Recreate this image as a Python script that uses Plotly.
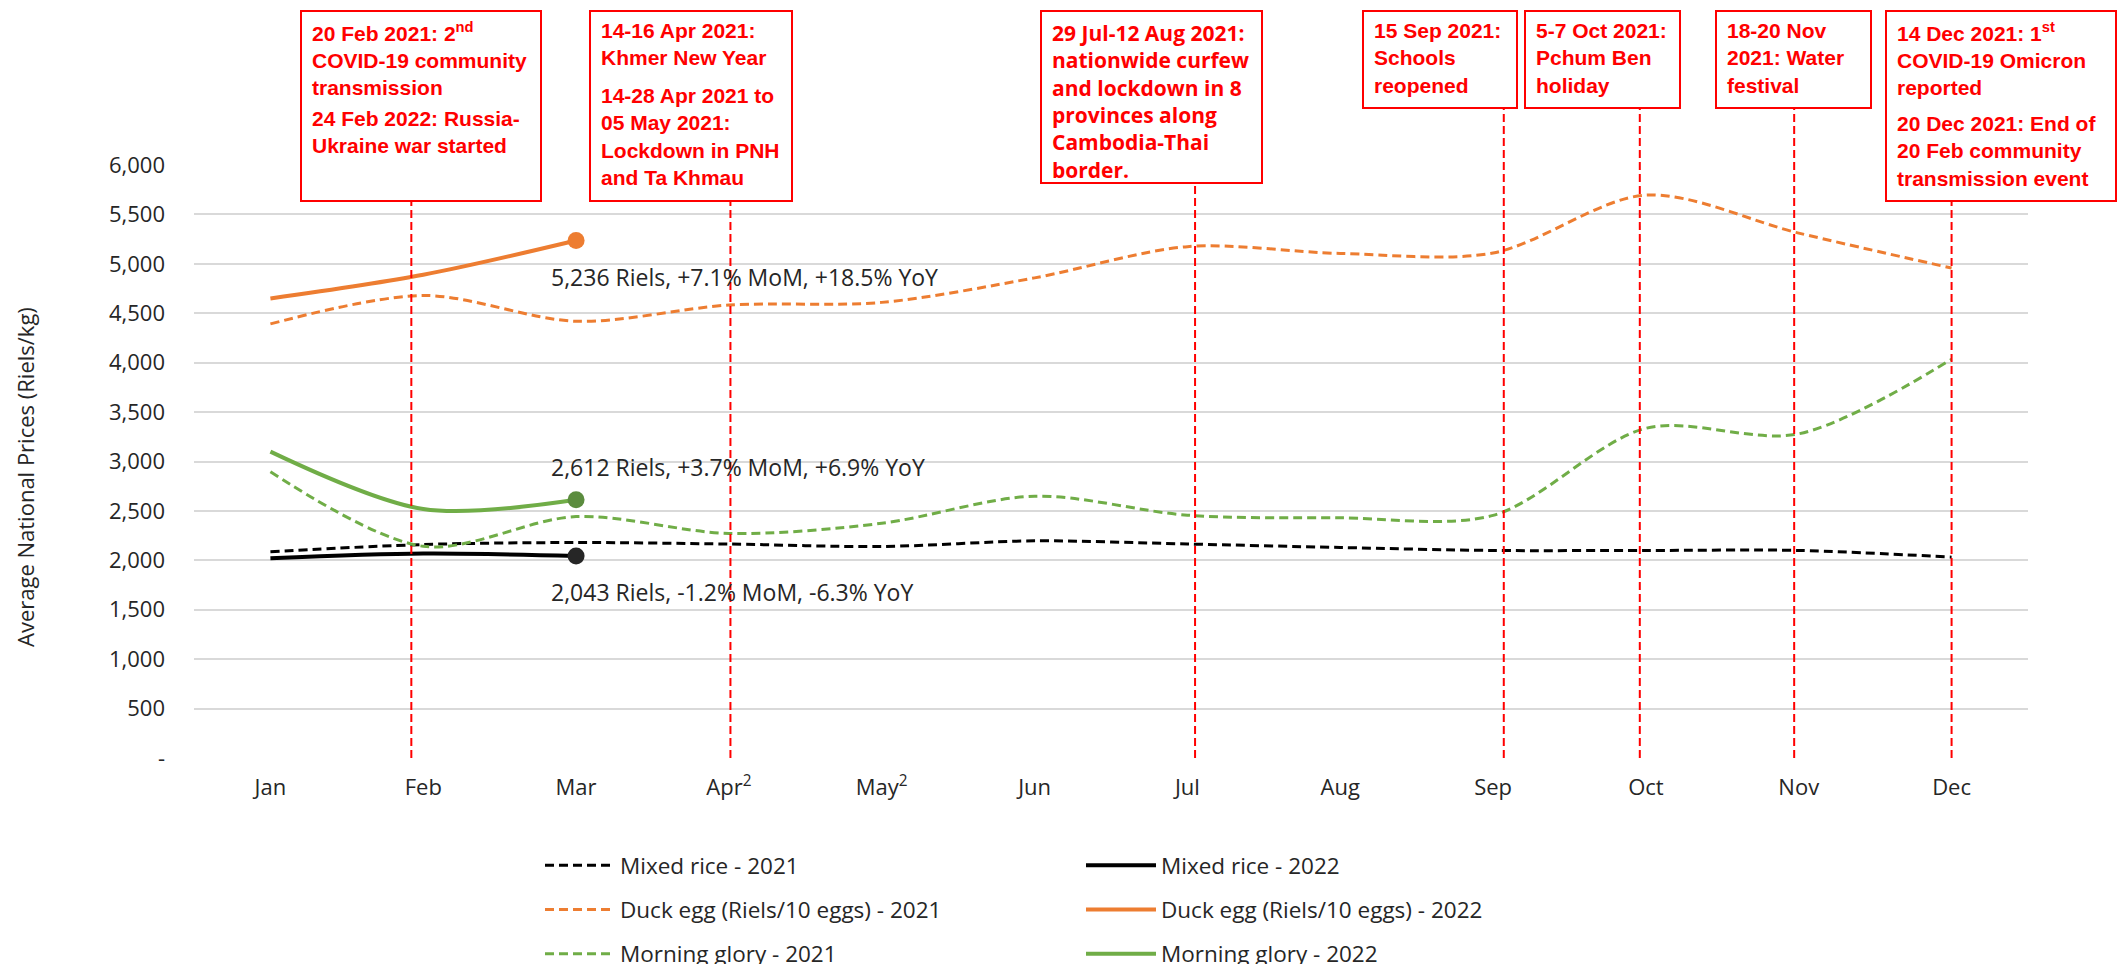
import plotly.graph_objects as go

# ---------------- data ----------------
months = ["Jan", "Feb", "Mar", "Apr", "May", "Jun", "Jul", "Aug", "Sep", "Oct", "Nov", "Dec"]
month_labels = ["Jan", "Feb", "Mar", "Apr<sup>2</sup>", "May<sup>2</sup>", "Jun", "Jul", "Aug",
                "Sep", "Oct", "Nov", "Dec"]

rice_2021 = [2087, 2160, 2180, 2165, 2140, 2197, 2165, 2130, 2100, 2100, 2100, 2032]
rice_2022 = [2020, 2068, 2043]
duck_2021 = [4392, 4680, 4419, 4583, 4610, 4858, 5174, 5105, 5110, 5695, 5311, 4957]
duck_2022 = [4650, 4889, 5236]
glory_2021 = [2896, 2142, 2443, 2272, 2375, 2649, 2457, 2430, 2455, 3336, 3280, 4035]
glory_2022 = [3100, 2519, 2612]

rice_change = (-1.2, -6.3)   # MoM, YoY
duck_change = (7.1, 18.5)
glory_change = (3.7, 6.9)

y_ticks = [0, 500, 1000, 1500, 2000, 2500, 3000, 3500, 4000, 4500, 5000, 5500, 6000]
y_ticktext = ["-"] + [f"{v:,}" for v in y_ticks[1:]]

# event markers (position in month units) and their texts
event_x = [0.922, 3.01, 6.05, 8.07, 8.96, 9.97, 11.0]
event_texts = [
    ["20 Feb 2021: 2<sup>nd</sup><br>COVID-19 community<br>transmission",
     "24 Feb 2022: Russia-<br>Ukraine war started"],
    ["14-16 Apr 2021:<br>Khmer New Year",
     "14-28 Apr 2021 to<br>05 May 2021:<br>Lockdown in PNH<br>and Ta Khmau"],
    ["29 Jul-12 Aug 2021:<br>nationwide curfew<br>and lockdown in 8<br>provinces along<br>Cambodia-Thai<br>border."],
    ["15 Sep 2021:<br>Schools<br>reopened"],
    ["5-7 Oct 2021:<br>Pchum Ben<br>holiday"],
    ["18-20 Nov<br>2021: Water<br>festival"],
    ["14 Dec 2021: 1<sup>st</sup><br>COVID-19 Omicron<br>reported",
     "20 Dec 2021: End of<br>20 Feb community<br>transmission event"],
]

# ---------------- layout geometry (pixels) ----------------
W, H = 2125, 964
PL, PR, PT, PB = 194, 97, 165, 206

def fx(px):
    return (px - PL) / (W - PL - PR)

def fy(py):
    return (H - PB - py) / (H - PT - PB)

# boxes: left, right, top, bottom (px) ; paragraph top offsets (px)
boxes = [
    (301, 541, 11, 201, [6, 94]),
    (590, 792, 11, 201, [6, 71]),
    (1041, 1262, 11, 183, [6]),
    (1363, 1517, 11, 108, [6]),
    (1525, 1680, 11, 108, [6]),
    (1716, 1871, 11, 108, [6]),
    (1886, 2116, 11, 201, [6, 99]),
]
box_fonts = ["Liberation Sans", "Liberation Sans", "Open Sans", "Liberation Sans",
             "Liberation Sans", "Liberation Sans", "Liberation Sans"]

BLACK = "#000000"
ORANGE = "#ED7D31"
GREEN = "#70AD47"
RED = "#FF0000"
TXT = "#262626"

fig = go.Figure()

dash21 = "9px,5px"
series = [
    ("Mixed rice - 2021", rice_2021, BLACK, "legend", dash21, 3),
    ("Duck egg (Riels/10 eggs) - 2021", duck_2021, ORANGE, "legend", dash21, 3),
    ("Morning glory - 2021", glory_2021, GREEN, "legend", dash21, 3),
    ("Mixed rice - 2022", rice_2022, BLACK, "legend2", "solid", 4),
    ("Duck egg (Riels/10 eggs) - 2022", duck_2022, ORANGE, "legend2", "solid", 4),
    ("Morning glory - 2022", glory_2022, GREEN, "legend2", "solid", 4),
]
for i, (name, vals, col, leg, dash, w) in enumerate(series):
    fig.add_trace(go.Scatter(
        x=months[:len(vals)], y=vals, name=name, mode="lines",
        line=dict(color=col, width=w, dash=dash, shape="spline", smoothing=0.9),
        legend=leg, legendgroup=f"g{i}", hoverinfo="skip"))

# end markers for 2022
for vals, col in [(rice_2022, "#262626"), (duck_2022, ORANGE), (glory_2022, "#5B8C3E")]:
    fig.add_trace(go.Scatter(
        x=[months[len(vals) - 1]], y=[vals[-1]], mode="markers",
        marker=dict(size=17, color=col), showlegend=False, hoverinfo="skip"))

# value labels
for vals, (mom, yoy), ysh in [(duck_2022, duck_change, -36),
                              (glory_2022, glory_change, 33),
                              (rice_2022, rice_change, -36)]:
    fig.add_annotation(
        x=months[len(vals) - 1], y=vals[-1], xref="x", yref="y",
        text=f"{vals[-1]:,} Riels, {mom:+.1f}% MoM, {yoy:+.1f}% YoY",
        showarrow=False, xanchor="left", yanchor="middle", xshift=-27, yshift=ysh,
        font=dict(family="Open Sans", size=23, color=TXT))

# event boxes, texts and dashed lines
for ex, texts, (l, r, t, b, offs), fam in zip(event_x, event_texts, boxes, box_fonts):
    fig.add_shape(type="rect", xref="paper", yref="paper",
                  x0=fx(l), x1=fx(r), y0=fy(b), y1=fy(t),
                  line=dict(color=RED, width=2), fillcolor="white", layer="above")
    for txt, off in zip(texts, offs):
        fig.add_annotation(
            x=fx(l + 9), y=fy(t + off), xref="paper", yref="paper",
            text=txt, showarrow=False, xanchor="left", yanchor="top", align="left",
            font=dict(family=fam, size=21, color=RED, weight="bold"))
    fig.add_shape(type="line", xref="x", yref="paper",
                  x0=ex, x1=ex, y0=0, y1=fy(b),
                  line=dict(color=RED, width=2, dash="8px,4px"), layer="above")

# y axis title
fig.add_annotation(
    x=fx(25), y=fy(477), xref="paper", yref="paper",
    text="Average National Prices (Riels/kg)", textangle=-90, showarrow=False,
    xanchor="center", yanchor="middle",
    font=dict(family="Open Sans", size=22, color=TXT))

legend_common = dict(
    orientation="v", xanchor="left", yanchor="top", bgcolor="rgba(0,0,0,0)",
    font=dict(family="Open Sans", size=22.5, color=TXT),
    tracegroupgap=12, itemwidth=70, traceorder="grouped")

fig.update_layout(
    width=W, height=H,
    margin=dict(l=PL, r=PR, t=PT, b=PB, autoexpand=False),
    paper_bgcolor="white", plot_bgcolor="white",
    showlegend=True,
    legend=dict(x=fx(540), y=fy(844), **legend_common),
    legend2=dict(x=fx(1081), y=fy(844), **legend_common),
    xaxis=dict(type="category", categoryorder="array", categoryarray=months,
               range=[-0.5, 11.5], tickmode="array", tickvals=months, ticktext=month_labels,
               showgrid=False, zeroline=False, showline=False, ticks="",
               ticklabelstandoff=14,
               tickfont=dict(family="Open Sans", size=22, color=TXT)),
    yaxis=dict(range=[0, 6000], tickmode="array", tickvals=y_ticks, ticktext=y_ticktext,
               showgrid=True, gridcolor="#D9D9D9", gridwidth=2, zeroline=False,
               showline=False, ticks="", ticklabelstandoff=28,
               tickfont=dict(family="Open Sans", size=22, color=TXT)),
)

fig.write_html("out.html", config={"displayModeBar": False},
               post_script="document.body.style.margin='0';")
